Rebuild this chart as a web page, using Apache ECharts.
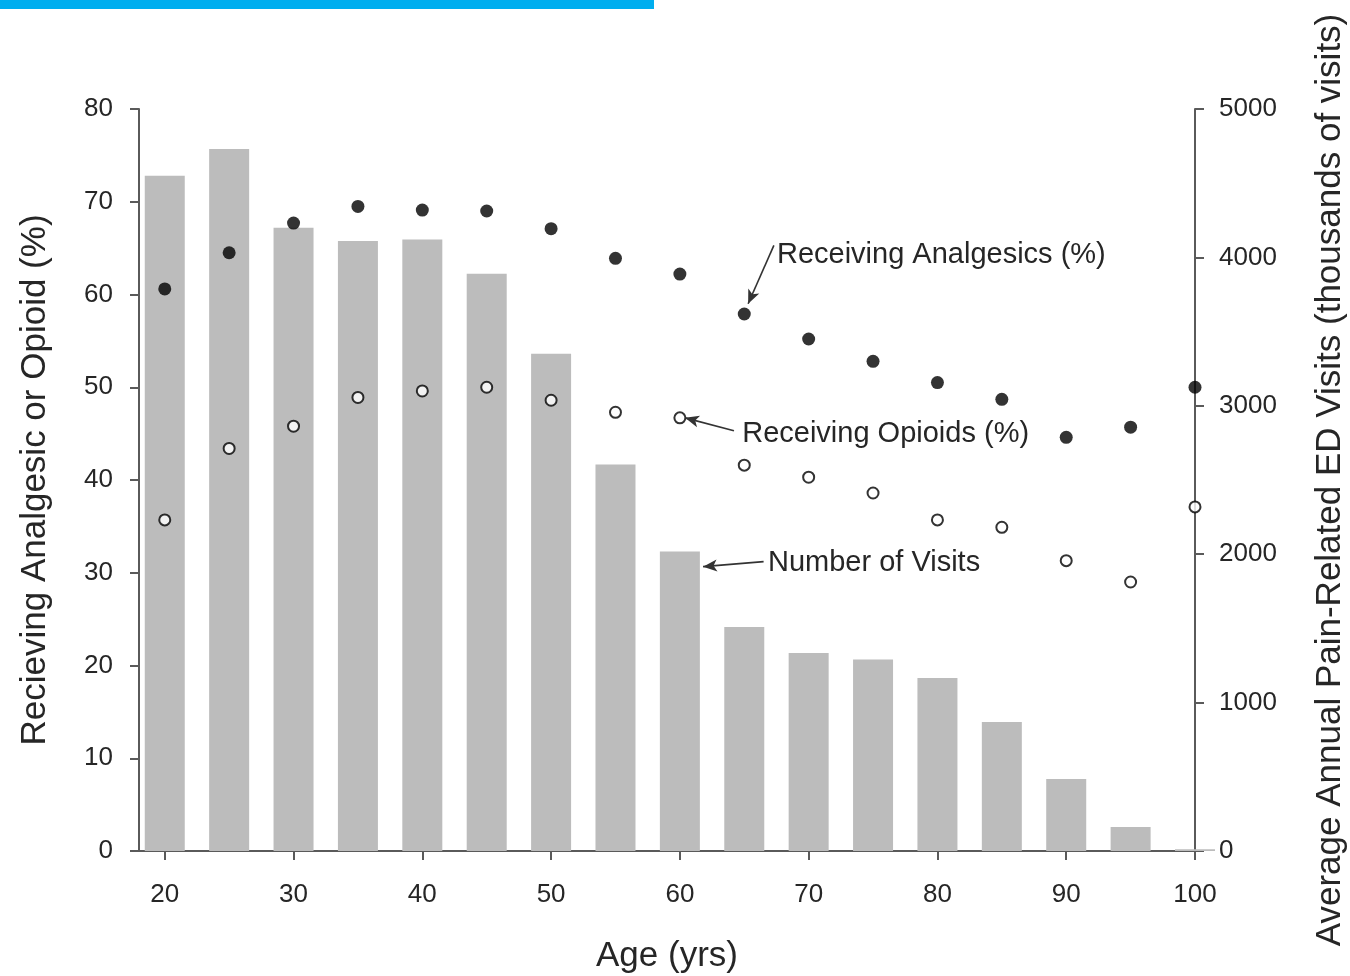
<!DOCTYPE html>
<html>
<head>
<meta charset="utf-8">
<script src="https://cdn.jsdelivr.net/npm/echarts@6/dist/echarts.min.js"></script>
<style>
  html, body { margin: 0; padding: 0; background: #ffffff; }
  #chart { width: 1350px; height: 976px; }
</style>
</head>
<body>
<div id="chart"></div>
<script>
// Age groups (years)
const ages = [20, 25, 30, 35, 40, 45, 50, 55, 60, 65, 70, 75, 80, 85, 90, 95, 100];
// Average annual pain-related ED visits (thousands of visits)
const visits = [4550, 4730, 4200, 4110, 4120, 3890, 3350, 2605, 2018, 1510, 1335, 1290, 1165, 870, 486, 162, 12];
// Percent of visits receiving any analgesic
const analgesics = [60.6, 64.5, 67.7, 69.5, 69.1, 69.0, 67.1, 63.9, 62.2, 57.9, 55.2, 52.8, 50.5, 48.7, 44.6, 45.7, 50.0];
// Percent of visits receiving an opioid
const opioids = [35.7, 43.4, 45.8, 48.9, 49.6, 50.0, 48.6, 47.3, 46.7, 41.6, 40.3, 38.6, 35.7, 34.9, 31.3, 29.0, 37.1];
// Axis tick labels
const xTicks = [20, 30, 40, 50, 60, 70, 80, 90, 100];

const pair = (arr) => ages.map((a, i) => [a, arr[i]]);

const textColor = '#262626';
const axisColor = '#5a5a5a';
const font = 'Liberation Sans, Arial, sans-serif';

const arrowLine = (from, to) => ({
  silent: true,
  symbol: ['none', 'arrow'],
  symbolSize: [9, 14],
  lineStyle: { color: '#333333', width: 1.6, type: 'solid' },
  label: { show: false },
  emphasis: { disabled: true },
  animation: false,
  data: [[{ coord: from }, { coord: to }]]
});

const noteLabel = (pos, text) => ({
  silent: true,
  symbol: 'rect',
  symbolSize: 1,
  itemStyle: { color: 'rgba(0,0,0,0)' },
  label: {
    show: true, position: 'right', distance: 0,
    formatter: text, color: textColor, fontSize: 29, fontFamily: font
  },
  animation: false,
  data: [{ coord: pos }]
});

const chart = echarts.init(document.getElementById('chart'), null, { renderer: 'canvas' });

chart.setOption({
  backgroundColor: '#ffffff',
  animation: false,
  graphic: [{
    type: 'rect',
    left: 0, top: 0,
    shape: { width: 654, height: 9 },
    style: { fill: '#00AEEF' }
  }],
  grid: { left: 139, right: 155, top: 109, bottom: 125, containLabel: false, outerBoundsMode: 'none' },
  xAxis: {
    type: 'value',
    min: 18, max: 100,
    name: 'Age (yrs)',
    nameLocation: 'middle',
    nameGap: 88,
    nameTextStyle: { color: textColor, fontSize: 35, fontFamily: font },
    axisLine: { show: true, onZero: false, lineStyle: { color: axisColor, width: 2 } },
    axisTick: { show: true, customValues: xTicks, length: 9, lineStyle: { color: axisColor, width: 2 } },
    axisLabel: { customValues: xTicks, color: textColor, fontSize: 26, fontFamily: font, margin: 31 },
    splitLine: { show: false }
  },
  yAxis: [{
    type: 'value',
    min: 0, max: 80, interval: 10,
    position: 'left',
    name: 'Recieving Analgesic or Opioid (%)',
    nameLocation: 'middle',
    nameRotate: 90,
    nameGap: 86,
    nameTextStyle: { color: textColor, fontSize: 35, fontFamily: font },
    axisLine: { show: true, lineStyle: { color: axisColor, width: 2 } },
    axisTick: { show: true, length: 9, lineStyle: { color: axisColor, width: 2 } },
    axisLabel: { color: textColor, fontSize: 26, fontFamily: font, margin: 26 },
    splitLine: { show: false }
  }, {
    type: 'value',
    min: 0, max: 5000, interval: 1000,
    position: 'right',
    name: 'Average Annual Pain-Related ED Visits (thousands of visits)',
    nameLocation: 'middle',
    nameRotate: 90,
    nameGap: 118,
    nameTextStyle: { color: textColor, fontSize: 35, fontFamily: font },
    axisLine: { show: true, lineStyle: { color: axisColor, width: 2 } },
    axisTick: { show: true, length: 9, lineStyle: { color: axisColor, width: 2 } },
    axisLabel: { color: textColor, fontSize: 26, fontFamily: font, margin: 24, formatter: (v) => String(v) },
    splitLine: { show: false }
  }],
  series: [{
    name: 'Number of Visits',
    type: 'bar',
    yAxisIndex: 1,
    barWidth: 40,
    clip: true,
    itemStyle: { color: '#bcbcbc' },
    data: pair(visits),
    z: 1,
    markLine: arrowLine([66.5, 1950], [61.8, 1916]),
    markPoint: noteLabel([66.8, 1943], 'Number of Visits')
  }, {
    name: 'Receiving Analgesics (%)',
    type: 'scatter',
    yAxisIndex: 0,
    symbol: 'circle',
    symbolSize: 13,
    itemStyle: { color: '#000000' },
    data: pair(analgesics),
    z: 3,
    markLine: arrowLine([67.3, 65.3], [65.3, 59.0]),
    markPoint: noteLabel([67.5, 64.3], 'Receiving Analgesics (%)')
  }, {
    name: 'Receiving Opioids (%)',
    type: 'scatter',
    yAxisIndex: 0,
    symbol: 'circle',
    symbolSize: 11,
    itemStyle: { color: '#ffffff', borderColor: '#000000', borderWidth: 2 },
    data: pair(opioids),
    z: 3,
    markLine: arrowLine([64.2, 45.3], [60.4, 46.7]),
    markPoint: noteLabel([64.8, 45.0], 'Receiving Opioids (%)')
  }]
});
</script>
</body>
</html>
